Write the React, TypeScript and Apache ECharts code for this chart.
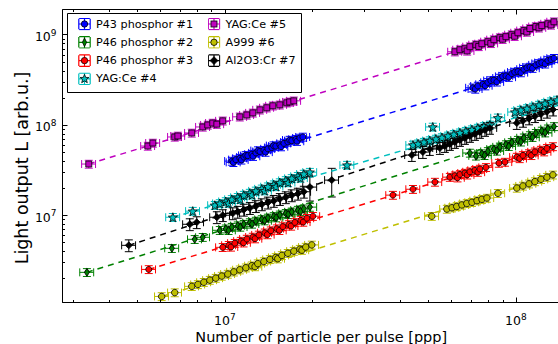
import React, { useEffect, useRef } from 'react';
import * as echarts from 'echarts';

// ---------- axes ----------
const X_MIN = 2.77e6;
const X_MAX = 1.66e8;
const Y_MIN = 1.08e6;
const Y_MAX = 1.9e9;
const xTickExponents = [7, 8];
const yTickExponents = [7, 8, 9];
const xMinorTicks = [3e6, 4e6, 5e6, 6e6, 7e6, 8e6, 9e6, 2e7, 3e7, 4e7, 5e7, 6e7, 7e7, 8e7, 9e7];
const xMajorTicks = [1e7, 1e8];
const yMinorTicks = [2e6, 3e6, 4e6, 5e6, 6e6, 7e6, 8e6, 9e6, 2e7, 3e7, 4e7, 5e7, 6e7, 7e7, 8e7, 9e7, 2e8, 3e8, 4e8, 5e8, 6e8, 7e8, 8e8, 9e8];

// ---------- series ----------
const seriesNames = ['P43 phosphor #1', 'P46 phosphor #2', 'P46 phosphor #3', 'YAG:Ce #4', 'YAG:Ce #5', 'A999 #6', 'Al2O3:Cr #7'];
const seriesColors = ['#0000ff', '#008000', '#ff0000', '#00bfbf', '#bf00bf', '#bfbf00', '#000000'];

// [particles per pulse, light output, (optional relative y error)]
const p43_1 = [
  [1.057e7, 3.98e7], [1.07e7, 3.85e7], [1.091e7, 4.13e7], [1.126e7, 4.27e7], [1.14e7, 4.1e7], [1.162e7, 4.41e7],
  [1.18e7, 4.6e7], [1.199e7, 4.57e7], [1.238e7, 4.74e7], [1.25e7, 4.5e7], [1.278e7, 4.9e7], [1.3e7, 5.2e7],
  [1.32e7, 5.08e7], [1.362e7, 5.25e7], [1.38e7, 5.0e7], [1.406e7, 5.44e7], [1.45e7, 5.62e7], [1.47e7, 5.9e7],
  [1.496e7, 5.83e7], [1.545e7, 6.03e7], [1.56e7, 5.75e7], [1.596e7, 6.25e7], [1.646e7, 6.47e7], [1.67e7, 6.8e7],
  [1.698e7, 6.7e7], [1.754e7, 6.94e7], [1.77e7, 6.6e7], [1.81e7, 7.17e7], [1.854e7, 7.36e7],
  [7.11e7, 2.58e8], [7.25e7, 2.5e8], [7.4e7, 2.7e8], [7.7e7, 2.82e8], [7.85e7, 2.72e8], [8.01e7, 2.96e8],
  [8.2e7, 3.1e8], [8.4e7, 3.13e8], [8.6e7, 3.0e8], [8.81e7, 3.31e8], [9.0e7, 3.45e8], [9.24e7, 3.5e8],
  [9.45e7, 3.38e8], [9.68e7, 3.7e8], [9.9e7, 3.85e8], [1.016e8, 3.91e8], [1.04e8, 3.8e8], [1.065e8, 4.14e8],
  [1.09e8, 4.3e8], [1.117e8, 4.38e8], [1.14e8, 4.25e8], [1.171e8, 4.63e8], [1.2e8, 4.8e8], [1.227e8, 4.9e8],
  [1.26e8, 4.75e8], [1.288e8, 5.18e8], [1.32e8, 5.3e8], [1.351e8, 5.48e8],
];
const p46_2 = [
  [3.36e6, 2.33e6], [6.58e6, 4.3e6], [7.88e6, 5.41e6], [8.4e6, 5.7e6],
  [9.61e6, 6.81e6], [1.008e7, 7.08e6], [1.03e7, 6.8e6], [1.057e7, 7.38e6], [1.108e7, 7.66e6], [1.13e7, 7.4e6],
  [1.162e7, 7.96e6], [1.219e7, 8.3e6], [1.24e7, 8.0e6], [1.278e7, 8.63e6], [1.34e7, 8.98e6], [1.37e7, 8.7e6],
  [1.406e7, 9.33e6], [1.473e7, 9.7e6], [1.5e7, 9.4e6], [1.545e7, 1.01e7], [1.62e7, 1.05e7], [1.65e7, 1.02e7],
  [1.698e7, 1.09e7], [1.782e7, 1.14e7], [1.82e7, 1.1e7], [1.868e7, 1.18e7], [1.96e7, 1.23e7],
  [6.95e7, 4.89e7], [7.29e7, 4.54e7], [7.64e7, 4.81e7], [7.8e7, 4.6e7], [8.01e7, 5.09e7], [8.4e7, 5.4e7],
  [8.6e7, 5.15e7], [8.81e7, 5.72e7], [9.24e7, 6.06e7], [9.45e7, 5.8e7], [9.68e7, 6.42e7], [1.016e8, 6.79e7],
  [1.04e8, 6.5e7], [1.065e8, 7.21e7], [1.117e8, 7.64e7], [1.14e8, 7.3e7], [1.171e8, 8.09e7], [1.227e8, 8.58e7],
  [1.26e8, 8.2e7], [1.288e8, 9.07e7], [1.351e8, 9.62e7],
];
const p46_3 = [
  [5.48e6, 2.51e6],
  [9.84e6, 4.41e6], [1.032e7, 4.65e6], [1.05e7, 4.45e6], [1.082e7, 4.9e6], [1.135e7, 5.17e6], [1.16e7, 4.95e6],
  [1.19e7, 5.45e6], [1.248e7, 5.74e6], [1.27e7, 5.5e6], [1.309e7, 6.05e6], [1.372e7, 6.39e6], [1.4e7, 6.1e6],
  [1.439e7, 6.74e6], [1.509e7, 7.1e6], [1.54e7, 6.8e6], [1.582e7, 7.48e6], [1.66e7, 7.9e6], [1.69e7, 7.6e6],
  [1.74e7, 8.32e6], [1.824e7, 8.78e6], [1.86e7, 8.4e6], [1.914e7, 9.26e6], [2.007e7, 9.75e6],
  [3.78e7, 1.67e7], [4.43e7, 1.94e7], [5.27e7, 2.33e7],
  [5.93e7, 2.64e7], [6.17e7, 2.74e7], [6.3e7, 2.6e7], [6.42e7, 2.83e7], [6.68e7, 2.93e7], [6.8e7, 2.8e7],
  [6.95e7, 3.03e7], [7.23e7, 3.14e7], [7.4e7, 3.0e7], [7.52e7, 3.25e7], [7.89e7, 3.39e7],
  [8.74e7, 3.78e7], [9.17e7, 3.88e7],
  [1.007e8, 4.41e7], [1.03e8, 4.25e7], [1.057e8, 4.6e7], [1.109e8, 4.82e7], [1.13e8, 4.6e7], [1.162e8, 5.04e7],
  [1.219e8, 5.27e7], [1.25e8, 5.05e7], [1.278e8, 5.51e7], [1.34e8, 5.77e7],
];
const yag_4 = [
  [6.63e6, 9.5e6], [7.76e6, 1.11e7],
  [9.24e6, 1.29e7], [9.61e6, 1.35e7], [1.008e7, 1.42e7], [1.03e7, 1.36e7], [1.057e7, 1.5e7], [1.108e7, 1.58e7],
  [1.13e7, 1.5e7], [1.162e7, 1.67e7], [1.219e7, 1.76e7], [1.24e7, 1.68e7], [1.278e7, 1.86e7], [1.34e7, 1.96e7],
  [1.37e7, 1.87e7], [1.406e7, 2.07e7], [1.473e7, 2.18e7], [1.5e7, 2.08e7], [1.545e7, 2.3e7], [1.62e7, 2.43e7],
  [1.65e7, 2.3e7], [1.698e7, 2.56e7], [1.782e7, 2.7e7], [1.82e7, 2.58e7], [1.868e7, 2.86e7], [1.96e7, 3.0e7],
  [2.63e7, 3.59e7],
  [4.43e7, 6.0e7], [4.61e7, 6.18e7], [4.83e7, 6.45e7], [5.06e7, 6.71e7], [5.18e7, 9.5e7], [5.31e7, 6.99e7],
  [5.57e7, 7.26e7], [5.84e7, 7.56e7], [6.12e7, 7.87e7], [6.42e7, 8.19e7], [6.73e7, 8.53e7], [7.06e7, 8.87e7],
  [7.4e7, 9.24e7], [7.76e7, 9.62e7], [8.14e7, 1.0e8],
  [8.67e7, 1.2e8],
  [9.92e7, 1.39e8], [1.04e8, 1.46e8], [1.091e8, 1.52e8], [1.144e8, 1.58e8], [1.2e8, 1.66e8], [1.258e8, 1.73e8],
  [1.319e8, 1.81e8], [1.384e8, 1.89e8],
];
const yag_5 = [
  [3.41e6, 3.69e7], [5.44e6, 5.84e7], [5.66e6, 6.31e7], [6.73e6, 7.36e7], [6.9e6, 7.55e7], [7.7e6, 8.15e7],
  [8.4e6, 9.5e7], [8.74e6, 1.0e8], [9.09e6, 1.05e8], [9.39e6, 1.02e8], [9.84e6, 1.11e8],
  [1.126e7, 1.23e8], [1.19e7, 1.29e8], [1.248e7, 1.36e8], [1.32e7, 1.47e8], [1.394e7, 1.55e8], [1.462e7, 1.63e8],
  [1.545e7, 1.67e8], [1.633e7, 1.76e8], [1.671e7, 1.8e8], [1.726e7, 1.85e8],
  [6.17e7, 6.47e8], [6.42e7, 6.81e8], [6.68e7, 6.99e8], [6.8e7, 6.6e8], [6.95e7, 7.36e8], [7.29e7, 7.74e8],
  [7.45e7, 7.4e8], [7.64e7, 7.94e8], [8.01e7, 8.36e8], [8.2e7, 8.0e8], [8.4e7, 8.8e8], [8.81e7, 9.27e8],
  [9.0e7, 8.9e8], [9.24e7, 9.5e8], [9.68e7, 1.0e9], [9.9e7, 9.6e8], [1.016e8, 1.05e9], [1.065e8, 1.11e9],
  [1.09e8, 1.07e9], [1.117e8, 1.17e9], [1.171e8, 1.23e9], [1.2e8, 1.19e9], [1.227e8, 1.26e9], [1.288e8, 1.32e9],
  [1.32e8, 1.28e9], [1.351e8, 1.39e9],
];
const a999_6 = [
  [6.07e6, 1.26e6], [6.73e6, 1.39e6],
  [7.7e6, 1.63e6], [8.08e6, 1.71e6], [8.47e6, 1.81e6], [8.88e6, 1.91e6], [9.31e6, 2.01e6], [9.76e6, 2.12e6],
  [1.024e7, 2.23e6], [1.074e7, 2.36e6], [1.126e7, 2.49e6], [1.181e7, 2.62e6], [1.238e7, 2.76e6], [1.27e7, 2.7e6],
  [1.298e7, 2.91e6], [1.362e7, 3.07e6], [1.428e7, 3.24e6], [1.496e7, 3.41e6], [1.52e7, 3.3e6], [1.57e7, 3.59e6],
  [1.646e7, 3.79e6], [1.726e7, 4.0e6], [1.81e7, 4.21e6], [1.84e7, 4.1e6], [1.897e7, 4.44e6], [1.99e7, 4.69e6],
  [5.14e7, 9.75e6],
  [5.79e7, 1.17e7], [6.03e7, 1.21e7], [6.26e7, 1.25e7], [6.52e7, 1.3e7], [6.78e7, 1.35e7], [7.06e7, 1.39e7],
  [7.35e7, 1.45e7], [7.64e7, 1.5e7], [7.95e7, 1.55e7],
  [8.67e7, 1.75e7],
  [1.007e8, 2.0e7], [1.057e8, 2.11e7], [1.109e8, 2.23e7], [1.162e8, 2.36e7], [1.219e8, 2.5e7], [1.278e8, 2.64e7],
  [1.34e8, 2.8e7],
];
const al2o3_7 = [
  [4.68e6, 4.64e6], [7.58e6, 7.94e6], [8.01e6, 8.36e6], [9.39e6, 9.5e6], [9.84e6, 1.0e7],
  [1.065e7, 1.05e7], [1.108e7, 1.09e7], [1.162e7, 1.15e7], [1.219e7, 1.2e7], [1.278e7, 1.26e7], [1.34e7, 1.32e7],
  [1.406e7, 1.38e7], [1.473e7, 1.44e7], [1.545e7, 1.51e7], [1.62e7, 1.58e7], [1.698e7, 1.66e7], [1.782e7, 1.73e7],
  [1.868e7, 1.82e7],
  [1.96e7, 2.05e7, 0.3], [2.33e7, 2.45e7, 0.35],
  [4.39e7, 4.64e7], [4.79e7, 5.01e7], [5.06e7, 5.41e7],
  [5.48e7, 5.55e7], [5.7e7, 5.84e7], [5.93e7, 6.15e7], [6.17e7, 6.47e7], [6.42e7, 6.81e7], [6.68e7, 7.17e7],
  [6.95e7, 7.55e7], [7.23e7, 7.94e7], [7.52e7, 8.36e7], [7.83e7, 8.8e7], [8.14e7, 9.27e7],
  [1.007e8, 1.05e8], [1.057e8, 1.11e8], [1.109e8, 1.18e8], [1.162e8, 1.25e8], [1.219e8, 1.32e8], [1.278e8, 1.4e8],
  [1.34e8, 1.48e8],
];
const seriesData = [p43_1, p46_2, p46_3, yag_4, yag_5, a999_6, al2o3_7];

// relative error bars
const xErrFrac = [0.055, 0.055, 0.055, 0.055, 0.055, 0.055, 0.055];
const yErrFrac = [0.1, 0.1, 0.1, 0.1, 0.1, 0.1, 0.15];

// power-law fits (dashed): start and end points
const fitStart = [[1.057e7, 3.98e7], [3.36e6, 2.33e6], [5.48e6, 2.51e6], [6.63e6, 9.5e6], [3.41e6, 3.69e7], [6.07e6, 1.26e6], [4.68e6, 4.64e6]];
const fitEnd = [[1.66e8, 5.9e8], [1.66e8, 1.18e8], [1.66e8, 7.09e7], [1.66e8, 1.94e8], [1.66e8, 1.72e9], [1.66e8, 3.33e7], [1.66e8, 1.95e8]];

// ---------- styling ----------
const FONT = 'DejaVu Sans';
const STAR = 'path://M6.5,2.3L7.56,5.04L10.49,5.2L8.21,7.06L8.97,9.9L6.5,8.3L4.03,9.9L4.79,7.06L2.51,5.2L5.44,5.04Z';
const symbols = ['circle', 'diamond', 'circle', STAR, 'rect', 'circle', 'diamond'];
const symbolSizes: any[] = [6, [5, 8], 6, 9, 6, 6.5, [7, 7]];
const legendMarkers = [
  "<circle cx='6.5' cy='6.5' r='3.2'/>",
  "<polygon points='6.5,2.3 8.6,6.5 6.5,10.7 4.4,6.5'/>",
  "<circle cx='6.5' cy='6.5' r='3.2'/>",
  "<polygon points='6.5,2.0 7.7,5.0 10.9,5.1 8.4,7.1 9.3,10.3 6.5,8.5 3.7,10.3 4.6,7.1 2.1,5.1 5.3,5.0'/>",
  "<rect x='3.5' y='3.5' width='6' height='6'/>",
  "<circle cx='6.5' cy='6.5' r='3.2'/>",
  "<polygon points='6.5,2.6 10.4,6.5 6.5,10.4 2.6,6.5'/>",
];

function legendIcon(i: number): string {
  const c = seriesColors[i];
  const svg =
    "<svg xmlns='http://www.w3.org/2000/svg' width='13' height='13' viewBox='0 0 13 13'>" +
    `<path d='M0.8 6.5H12.2M6.5 0.8V12.2M0.8 1.2V11.8M12.2 1.2V11.8M1.2 0.8H11.8M1.2 12.2H11.8' stroke='${c}' stroke-width='1.2' fill='none'/>` +
    `<g fill='${c}' stroke='#000' stroke-width='0.8'>${legendMarkers[i]}</g>` +
    '</svg>';
  return 'image://data:image/svg+xml;charset=utf-8,' + encodeURIComponent(svg);
}

function tickFormatter(exps: number[]) {
  return (v: number) => {
    const e = Math.log10(v);
    const r = Math.round(e);
    if (Math.abs(e - r) > 1e-6 || exps.indexOf(r) < 0) return '';
    return `{b|10}{s|${r}}`;
  };
}
const labelRich = {
  b: { fontSize: 12.5, fontFamily: FONT, color: '#000', padding: [4, 0, 0, 0] },
  s: { fontSize: 9, fontFamily: FONT, color: '#000', padding: [0, 0, 4, 0] },
};

function errRender(color: string) {
  return (params: any, api: any) => {
    const x = api.value(0), y = api.value(1), ex = api.value(2), ey = api.value(3);
    const l = api.coord([x * (1 - ex), y]);
    const r = api.coord([x * (1 + ex), y]);
    const b = api.coord([x, y * (1 - ey)]);
    const t = api.coord([x, y * (1 + ey)]);
    const c = 4;
    const st = { stroke: color, lineWidth: 1 };
    return {
      type: 'group',
      children: [
        { type: 'line', shape: { x1: l[0], y1: l[1], x2: r[0], y2: r[1] }, style: st },
        { type: 'line', shape: { x1: l[0], y1: l[1] - c, x2: l[0], y2: l[1] + c }, style: st },
        { type: 'line', shape: { x1: r[0], y1: r[1] - c, x2: r[0], y2: r[1] + c }, style: st },
        { type: 'line', shape: { x1: b[0], y1: b[1], x2: t[0], y2: t[1] }, style: st },
        { type: 'line', shape: { x1: b[0] - c, y1: b[1], x2: b[0] + c, y2: b[1] }, style: st },
        { type: 'line', shape: { x1: t[0] - c, y1: t[1], x2: t[0] + c, y2: t[1] }, style: st },
      ],
    };
  };
}

function tickRender(params: any, api: any) {
  const cs = params.coordSys;
  const kind = api.value(2);
  const p = api.coord([api.value(0), api.value(1)]);
  const st = { stroke: '#000', lineWidth: 1 };
  if (kind === 0 || kind === 1) {
    const x = Math.round(p[0]) + 0.5;
    const len = kind === 0 ? 2.5 : 5;
    const children: any[] = [
      { type: 'line', shape: { x1: x, y1: cs.y, x2: x, y2: cs.y + len }, style: st },
    ];
    if (kind === 0) {
      children.push({ type: 'line', shape: { x1: x, y1: cs.y + cs.height, x2: x, y2: cs.y + cs.height - len }, style: st });
    }
    return { type: 'group', children };
  }
  const y = Math.round(p[1]) + 0.5;
  return { type: 'line', shape: { x1: cs.x, y1: y, x2: cs.x + 2.5, y2: y }, style: st };
}

export default function App() {
  const ref = useRef<HTMLDivElement>(null);
  useEffect(() => {
    if (!ref.current) return;
    const chart = echarts.init(ref.current, undefined, { renderer: 'svg' });

    const tickData: number[][] = [
      ...xMinorTicks.map((v) => [v, Y_MIN, 0]),
      ...xMajorTicks.map((v) => [v, Y_MIN, 1]),
      ...yMinorTicks.map((v) => [X_MIN, v, 2]),
    ];

    const series: any[] = [];
    seriesNames.forEach((name, i) => {
      series.push({
        type: 'line', name, data: [fitStart[i], fitEnd[i]], showSymbol: false, symbol: 'none', silent: true,
        lineStyle: { color: seriesColors[i], width: 1.5, type: [6, 5] }, z: 2,
      });
    });
    seriesNames.forEach((name, i) => {
      series.push({
        type: 'custom', name, silent: true, z: 2,
        encode: { x: 0, y: 1 },
        data: seriesData[i].map((p) => [p[0], p[1], xErrFrac[i], p[2] !== undefined ? p[2] : yErrFrac[i]]),
        renderItem: errRender(seriesColors[i]),
      });
      series.push({
        type: 'scatter', name, silent: true, z: 2,
        data: seriesData[i].map((p) => [p[0], p[1]]),
        symbol: symbols[i], symbolSize: symbolSizes[i],
        itemStyle: { color: seriesColors[i], borderColor: '#000', borderWidth: 0.8, opacity: 1 },
      });
    });
    series.push({
      type: 'custom', name: 'ticks', silent: true, z: 3, encode: { x: 0, y: 1 },
      data: tickData, renderItem: tickRender,
    });

    const legendText = { fontFamily: FONT, fontSize: 11.2, color: '#000' };
    const mkLegend = (idx: number[], left: number) => ({
      show: true, orient: 'vertical', left, top: 17.5, padding: 0, itemGap: 5.3,
      itemWidth: 13, itemHeight: 13, selectedMode: false, z: 10, textStyle: legendText,
      data: idx.map((i) => ({ name: seriesNames[i], icon: legendIcon(i) })),
    });

    chart.setOption({
      animation: false,
      backgroundColor: '#fff',
      textStyle: { fontFamily: FONT },
      grid: {
        left: 62.5, top: 9.5, right: 0, bottom: 41.5, show: true, borderColor: '#000', borderWidth: 1,
        backgroundColor: 'transparent', containLabel: false, outerBoundsMode: 'none',
      },
      xAxis: {
        type: 'log', logBase: 10, min: X_MIN, max: X_MAX,
        axisLine: { show: false }, splitLine: { show: false },
        axisTick: { show: true, inside: true, length: 5, lineStyle: { color: '#000' } },
        axisLabel: { formatter: tickFormatter(xTickExponents), rich: labelRich, margin: 7.5 },
        name: 'Number of particle per pulse [ppp]', nameLocation: 'middle', nameGap: 27, nameMoveOverlap: false,
        nameTextStyle: { fontFamily: FONT, fontSize: 14.5, lineHeight: 14, color: '#000' },
      },
      yAxis: {
        type: 'log', logBase: 10, min: Y_MIN, max: Y_MAX,
        axisLine: { show: false }, splitLine: { show: false },
        axisTick: { show: true, inside: true, length: 5, lineStyle: { color: '#000' } },
        axisLabel: { formatter: tickFormatter(yTickExponents), rich: labelRich, margin: 6 },
        name: 'Light output L [arb.u.]', nameLocation: 'middle', nameGap: 32, nameMoveOverlap: false,
        nameTextStyle: { fontFamily: FONT, fontSize: 17.5, color: '#000', padding: [0, 24, 0, 0] },
      },
      legend: [mkLegend([0, 1, 2, 3], 78), mkLegend([4, 5, 6], 207.5)],
      graphic: [
        { type: 'rect', left: 67, top: 13, z: 9, shape: { width: 234, height: 79 }, style: { fill: '#fff', stroke: '#000', lineWidth: 1 } },
      ],
      series,
    });
    return () => chart.dispose();
  }, []);
  return <div ref={ref} style={{ position: 'fixed', left: 0, top: 0, width: 580, height: 344 }} />;
}
